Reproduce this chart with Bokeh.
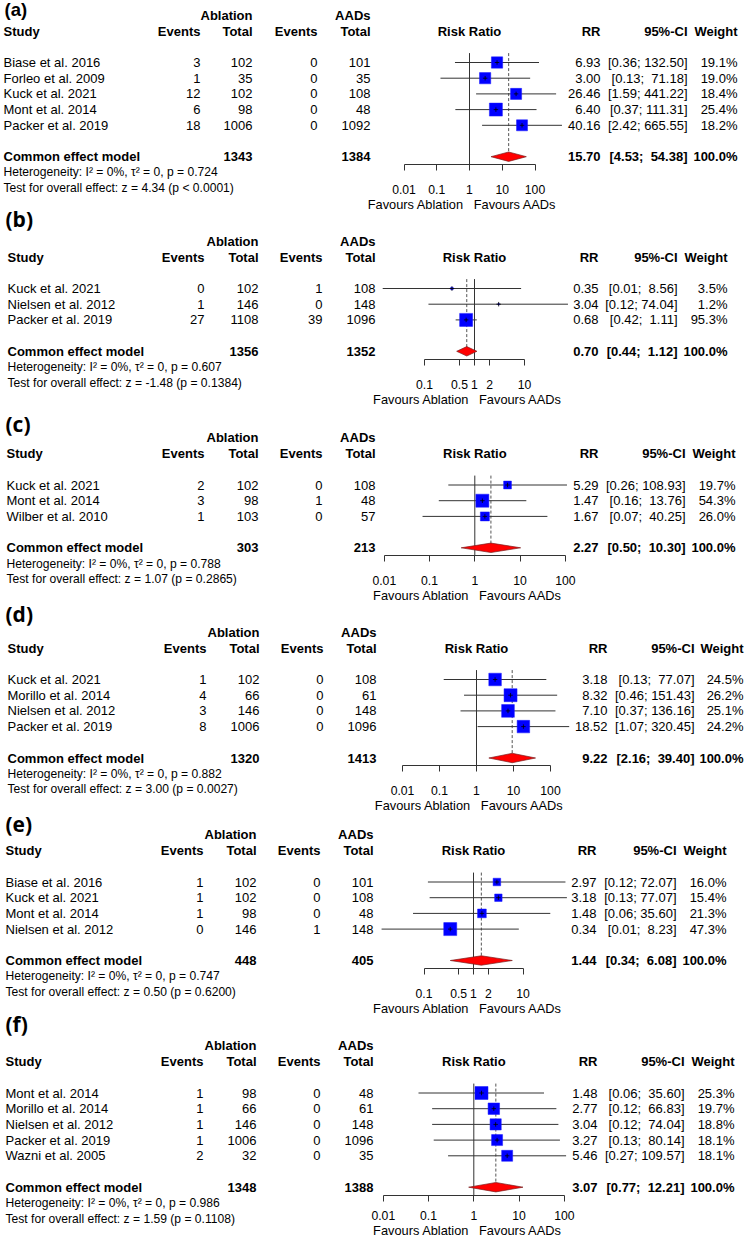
import math
from bokeh.plotting import figure
from bokeh.models import (Range1d, LogScale, LogAxis, FixedTicker,
                          CustomJSTickFormatter, ColumnDataSource)
from bokeh.layouts import column, row
from bokeh.core.properties import value
from bokeh.embed import file_html
from bokeh.resources import INLINE

# ------------------------------------------------------------------ data
# (a)
a_study = ["Biase et al. 2016", "Forleo et al. 2009", "Kuck et al. 2021",
           "Mont et al. 2014", "Packer et al. 2019"]
a_ev_abl = [3, 1, 12, 6, 18]
a_n_abl = [102, 35, 102, 98, 1006]
a_ev_aad = [0, 0, 0, 0, 0]
a_n_aad = [101, 35, 108, 48, 1092]
a_rr = [6.93, 3.00, 26.46, 6.40, 40.16]
a_lo = [0.36, 0.13, 1.59, 0.37, 2.42]
a_hi = [132.50, 71.18, 441.22, 111.31, 665.55]
a_w = [19.1, 19.0, 18.4, 25.4, 18.2]
a_pool = [15.70, 4.53, 54.38]
a_tot = [1343, 1384]
a_het = "Heterogeneity: I² = 0%, τ² = 0, p = 0.724"
a_test = "Test for overall effect: z = 4.34 (p < 0.0001)"

# (b)
b_study = ["Kuck et al. 2021", "Nielsen et al. 2012", "Packer et al. 2019"]
b_ev_abl = [0, 1, 27]
b_n_abl = [102, 146, 1108]
b_ev_aad = [1, 0, 39]
b_n_aad = [108, 148, 1096]
b_rr = [0.354, 3.04, 0.68]
b_lo = [0.0146, 0.12, 0.42]
b_hi = [8.56, 74.04, 1.11]
b_w = [3.5, 1.2, 95.3]
b_pool = [0.70, 0.44, 1.12]
b_tot = [1356, 1352]
b_het = "Heterogeneity: I² = 0%, τ² = 0, p = 0.607"
b_test = "Test for overall effect: z = -1.48 (p = 0.1384)"

# (c)
c_study = ["Kuck et al. 2021", "Mont et al. 2014", "Wilber et al. 2010"]
c_ev_abl = [2, 3, 1]
c_n_abl = [102, 98, 103]
c_ev_aad = [0, 1, 0]
c_n_aad = [108, 48, 57]
c_rr = [5.29, 1.47, 1.67]
c_lo = [0.26, 0.16, 0.07]
c_hi = [108.93, 13.76, 40.25]
c_w = [19.7, 54.3, 26.0]
c_pool = [2.27, 0.50, 10.30]
c_tot = [303, 213]
c_het = "Heterogeneity: I² = 0%, τ² = 0, p = 0.788"
c_test = "Test for overall effect: z = 1.07 (p = 0.2865)"

# (d)
d_study = ["Kuck et al. 2021", "Morillo et al. 2014", "Nielsen et al. 2012",
           "Packer et al. 2019"]
d_ev_abl = [1, 4, 3, 8]
d_n_abl = [102, 66, 146, 1006]
d_ev_aad = [0, 0, 0, 0]
d_n_aad = [108, 61, 148, 1096]
d_rr = [3.18, 8.32, 7.10, 18.52]
d_lo = [0.13, 0.46, 0.37, 1.07]
d_hi = [77.07, 151.43, 136.16, 320.45]
d_w = [24.5, 26.2, 25.1, 24.2]
d_pool = [9.22, 2.16, 39.40]
d_tot = [1320, 1413]
d_het = "Heterogeneity: I² = 0%, τ² = 0, p = 0.882"
d_test = "Test for overall effect: z = 3.00 (p = 0.0027)"

# (e)
e_study = ["Biase et al. 2016", "Kuck et al. 2021", "Mont et al. 2014",
           "Nielsen et al. 2012"]
e_ev_abl = [1, 1, 1, 0]
e_n_abl = [102, 102, 98, 146]
e_ev_aad = [0, 0, 0, 1]
e_n_aad = [101, 108, 48, 148]
e_rr = [2.97, 3.18, 1.48, 0.339]
e_lo = [0.12, 0.13, 0.06, 0.0139]
e_hi = [72.07, 77.07, 35.60, 8.23]
e_w = [16.0, 15.4, 21.3, 47.3]
e_pool = [1.44, 0.34, 6.08]
e_tot = [448, 405]
e_het = "Heterogeneity: I² = 0%, τ² = 0, p = 0.747"
e_test = "Test for overall effect: z = 0.50 (p = 0.6200)"

# (f)
f_study = ["Mont et al. 2014", "Morillo et al. 2014", "Nielsen et al. 2012",
           "Packer et al. 2019", "Wazni et al. 2005"]
f_ev_abl = [1, 1, 1, 1, 2]
f_n_abl = [98, 66, 146, 1006, 32]
f_ev_aad = [0, 0, 0, 0, 0]
f_n_aad = [48, 61, 148, 1096, 35]
f_rr = [1.48, 2.77, 3.04, 3.27, 5.46]
f_lo = [0.06, 0.12, 0.12, 0.13, 0.27]
f_hi = [35.60, 66.83, 74.04, 80.14, 109.57]
f_w = [25.3, 19.7, 18.8, 18.1, 18.1]
f_pool = [3.07, 0.77, 12.21]
f_tot = [1348, 1388]
f_het = "Heterogeneity: I² = 0%, τ² = 0, p = 0.986"
f_test = "Test for overall effect: z = 1.59 (p = 0.1108)"

ticks_wide = [0.01, 0.1, 1, 10, 100]
ticks_narrow = [0.1, 0.5, 1, 2, 10]

panel_names = ["(a)", "(b)", "(c)", "(d)", "(e)", "(f)"]

def pack(study, ev1, n1, ev2, n2, rr, lo, hi, w, pool, tot, het, test, ticks):
    return dict(study=study, ev1=ev1, n1=n1, ev2=ev2, n2=n2, rr=rr, lo=lo,
                hi=hi, w=w, pool=pool, tot=tot, het=het, test=test, ticks=ticks)

PANELS = [
    pack(a_study, a_ev_abl, a_n_abl, a_ev_aad, a_n_aad, a_rr, a_lo, a_hi, a_w, a_pool, a_tot, a_het, a_test, ticks_wide),
    pack(b_study, b_ev_abl, b_n_abl, b_ev_aad, b_n_aad, b_rr, b_lo, b_hi, b_w, b_pool, b_tot, b_het, b_test, ticks_narrow),
    pack(c_study, c_ev_abl, c_n_abl, c_ev_aad, c_n_aad, c_rr, c_lo, c_hi, c_w, c_pool, c_tot, c_het, c_test, ticks_wide),
    pack(d_study, d_ev_abl, d_n_abl, d_ev_aad, d_n_aad, d_rr, d_lo, d_hi, d_w, d_pool, d_tot, d_het, d_test, ticks_wide),
    pack(e_study, e_ev_abl, e_n_abl, e_ev_aad, e_n_aad, e_rr, e_lo, e_hi, e_w, e_pool, e_tot, e_het, e_test, ticks_narrow),
    pack(f_study, f_ev_abl, f_n_abl, f_ev_aad, f_n_aad, f_rr, f_lo, f_hi, f_w, f_pool, f_tot, f_het, f_test, ticks_wide),
]

# ------------------------------------------------------------------ layout (pixel units)
W, H = 745, 1240
SPLIT = 328                                     # left table | right part
RH = 15.7
LEFT_B = [0, 201, 401, 593, 803, 1005, 1240]    # left column panel edges
RIGHT_B = [0, 225, 420, 620, 822, 1030, 1240]   # right column panel edges

LAY = [
    dict(y0=62.0, lab_x=4, lab_y=9, lab_font="Liberation Sans", lab_size=18.5,
         sx=3, cols=[200, 252, 317, 370], x1=469.0, dec=32.75, rr=600, ci=687, w=737,
         so=14),
    dict(y0=288.0, lab_x=5, lab_y=218, lab_font="Open Sans", lab_size=21,
         sx=7, cols=[204, 258, 322, 375], x1=474.0, dec=50.0, rr=598, ci=677, w=727,
         so=14),
    dict(y0=484.5, lab_x=5, lab_y=423, lab_font="Open Sans", lab_size=21,
         sx=6, cols=[204, 258, 322, 375], x1=474.3, dec=45.25, rr=598, ci=685, w=735,
         so=14),
    dict(y0=679.0, lab_x=5, lab_y=613, lab_font="Open Sans", lab_size=21,
         sx=7, cols=[206, 259, 323, 376], x1=476.0, dec=37.0, rr=607, ci=694, w=743,
         so=14),
    dict(y0=881.5, lab_x=5, lab_y=823, lab_font="Open Sans", lab_size=21,
         sx=5, cols=[203, 256, 320, 373], x1=473.0, dec=49.5, rr=596, ci=676, w=726,
         so=14),
    dict(y0=1092.5, lab_x=5, lab_y=1023, lab_font="Open Sans", lab_size=21,
         sx=5, cols=[203, 256, 320, 373], x1=473.3, dec=45.25, rr=597, ci=684, w=734,
         so=9),
]

FONT = "Liberation Sans"
FS = 13.0
FS_HET = 12.1
FS_TICK = 12.2
FS_FAV = 12.8
NB = "\u00a0"
LINE_COL = "#333333"

# Arial / Liberation Sans advance widths (per 1000 em) used to centre the axis label
ADV = {"F": 611, "a": 556, "v": 500, "o": 556, "u": 556, "r": 333, "s": 500,
       " ": 278, NB: 278, "A": 667, "b": 556, "l": 222, "t": 278, "i": 222,
       "n": 556, "D": 722}


def text_w(s, size):
    return sum(ADV.get(ch, 556) for ch in s) * size / 1000.0


def px(v):
    return value(f"{v:.2f}px")


def add_text(p, xs, ys, texts, align="left", size=FS, bold=False, font=FONT):
    src = ColumnDataSource(dict(x=list(xs), y=list(ys), t=list(texts)))
    p.text(x="x", y="y", text="t", source=src, text_align=align,
           text_baseline="middle", text_font=value(font), text_font_size=px(size),
           text_font_style="bold" if bold else "normal", text_color="black")


def make_fig(width, height, xr, yr, **kw):
    p = figure(width=width, height=height, x_range=xr, y_range=yr,
               x_axis_type=None, y_axis_type=None, output_backend="svg",
               toolbar_location=None, min_border=0, outline_line_color=None,
               border_fill_color="white", background_fill_color="white", **kw)
    p.min_border_left = 0
    p.min_border_right = 0
    p.min_border_top = 0
    p.frame_align = False
    return p


def ci_strings(los, his):
    ls = [f"{v:.2f}" for v in los]
    hs = [f"{v:.2f}" for v in his]
    lw = max(len(s) for s in ls)
    hw = max(len(s) for s in hs)
    return ["[" + NB * (lw - len(a)) + a + ";" + NB * (1 + hw - len(b)) + b + "]"
            for a, b in zip(ls, hs)]


FAV_L, FAV_R = "Favours Ablation", "Favours AADs"

left_figs = []
right_figs = []
for i, (d, L) in enumerate(zip(PANELS, LAY)):
    n = len(d["study"])
    ys = list(range(n))
    yp = n + 1
    y0 = L["y0"]
    c1, c2, c3, c4 = L["cols"]

    # ---------------- left table
    top, bot = LEFT_B[i], LEFT_B[i + 1]
    pl = make_fig(SPLIT, bot - top, Range1d(0, SPLIT),
                  Range1d((bot - y0) / RH, (top - y0) / RH))
    add_text(pl, [L["lab_x"]], [(L["lab_y"] - y0) / RH], [panel_names[i]],
             size=L["lab_size"], bold=True, font=L["lab_font"])
    add_text(pl, [c2], [-3], ["Ablation"], align="right", bold=True)
    add_text(pl, [L["sx"]], [-2], ["Study"], bold=True)
    add_text(pl, [c1, c2, c3], [-2] * 3, ["Events", "Total", "Events"],
             align="right", bold=True)
    add_text(pl, [L["sx"]] * n, ys, d["study"])
    add_text(pl, [c1] * n, ys, [str(v) for v in d["ev1"]], align="right")
    add_text(pl, [c2] * n, ys, [str(v) for v in d["n1"]], align="right")
    add_text(pl, [c3] * n, ys, [str(v) for v in d["ev2"]], align="right")
    add_text(pl, [L["sx"]], [yp], ["Common effect model"], bold=True)
    add_text(pl, [c2], [yp], [str(d["tot"][0])], align="right", bold=True)
    add_text(pl, [L["sx"], L["sx"]], [yp + 1, yp + 2], [d["het"], d["test"]], size=FS_HET)
    left_figs.append(pl)

    # ---------------- right part: AAD totals, forest, statistics
    top, bot = RIGHT_B[i], RIGHT_B[i + 1]
    h = bot - top
    axis_ref = y0 + (yp + 0.5) * RH
    bb = round(bot - axis_ref)
    axis_row = ((bot - bb) - y0) / RH
    x1, dec = L["x1"], L["dec"]
    pr = make_fig(W - SPLIT, h, Range1d(SPLIT, W),
                  Range1d(axis_row, (top - y0) / RH), min_border_bottom=bb)
    pr.extra_x_ranges = {"log": Range1d(10 ** ((SPLIT - x1) / dec),
                                        10 ** ((W - x1) / dec))}
    pr.extra_x_scales = {"log": LogScale()}

    add_text(pr, [c4], [-3], ["AADs"], align="right", bold=True)
    add_text(pr, [c4], [-2], ["Total"], align="right", bold=True)
    add_text(pr, [c4] * n, ys, [str(v) for v in d["n2"]], align="right")
    add_text(pr, [c4], [yp], [str(d["tot"][1])], align="right", bold=True)

    est, plo, phi = d["pool"]
    pr.segment(x0=[1], y0=[-0.6], x1=[1], y1=[axis_row], x_range_name="log",
               line_color=LINE_COL, line_width=1)
    pr.segment(x0=[est], y0=[-0.6], x1=[est], y1=[yp], x_range_name="log",
               line_color="#555555", line_width=1, line_dash="3 2")
    wmax = max(d["w"])
    src = ColumnDataSource(dict(
        y=ys, rr=d["rr"], lo=d["lo"], hi=d["hi"],
        sz=[13 * math.sqrt(wv / wmax) for wv in d["w"]]))
    pr.segment(x0="lo", y0="y", x1="hi", y1="y", source=src, x_range_name="log",
               line_color=LINE_COL, line_width=1)
    pr.scatter(x="rr", y="y", size="sz", marker="square", source=src,
               x_range_name="log", fill_color="#0000FF", line_color="#1a1aff",
               line_width=0.5)
    pr.scatter(x="rr", y="y", size=4.5, marker="cross", source=src,
               x_range_name="log", line_color="black", line_width=0.8)
    pr.patch(x=[plo, est, phi, est], y=[yp, yp - 0.3, yp, yp + 0.3],
             x_range_name="log", fill_color="#FF0000", line_color="#7a2020",
             line_width=0.7)
    add_text(pr, [x1], [-2], ["Risk Ratio"], align="center", bold=True)

    # axis label is centred on the frame: pad so that the gap sits at RR = 1
    frame_c = (SPLIT + W) / 2.0
    nb_w = text_w(NB, FS_FAV)
    pad = round((text_w(FAV_L, FS_FAV) - text_w(FAV_R, FS_FAV)
                 + 2 * (frame_c - x1)) / nb_w)
    ax = LogAxis(x_range_name="log", ticker=FixedTicker(ticks=d["ticks"]),
                 formatter=CustomJSTickFormatter(code="return tick.toString();"),
                 bounds=(d["ticks"][0], d["ticks"][-1]),
                 axis_label=FAV_L + NB * 3 + FAV_R + NB * pad)
    ax.major_tick_out = 6
    ax.major_tick_in = 0
    ax.minor_tick_out = 0
    ax.minor_tick_in = 0
    ax.major_label_standoff = L["so"]
    ax.axis_label_standoff = 0
    ax.axis_line_color = LINE_COL
    ax.major_tick_line_color = LINE_COL
    ax.major_label_text_font = FONT
    ax.major_label_text_font_size = f"{FS_TICK:.2f}px"
    ax.major_label_text_color = "black"
    ax.axis_label_text_font = FONT
    ax.axis_label_text_font_size = f"{FS_FAV:.2f}px"
    ax.axis_label_text_font_style = "normal"
    ax.axis_label_text_color = "black"
    pr.add_layout(ax, "below")

    add_text(pr, [L["rr"], L["ci"], L["w"]], [-2] * 3, ["RR", "95%-CI", "Weight"],
             align="right", bold=True)
    cis = ci_strings(d["lo"] + [plo], d["hi"] + [phi])
    add_text(pr, [L["rr"]] * n, ys, [f"{v:.2f}" for v in d["rr"]], align="right")
    add_text(pr, [L["ci"]] * n, ys, cis[:n], align="right")
    add_text(pr, [L["w"]] * n, ys, [f"{v:.1f}%" for v in d["w"]], align="right")
    add_text(pr, [L["rr"], L["ci"], L["w"]], [yp] * 3,
             [f"{est:.2f}", cis[n], "100.0%"], align="right", bold=True)
    right_figs.append(pr)

layout = row(column(*left_figs, spacing=0), column(*right_figs, spacing=0), spacing=0)
open("out.html", "w").write(file_html(layout, INLINE))
